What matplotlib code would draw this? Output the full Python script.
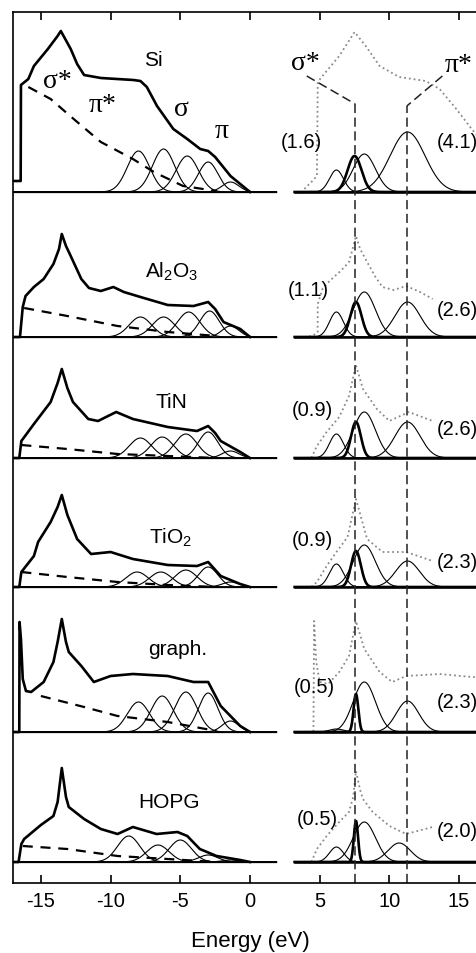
import numpy as np
import matplotlib.pyplot as plt

plt.rcParams['font.family'] = ['Liberation Sans', 'DejaVu Sans']
plt.rcParams['mathtext.default'] = 'regular'
plt.rcParams['axes.unicode_minus'] = False

# --- data (intensity in arbitrary units) ---
names = ['Si', 'Al$_2$O$_3$', 'TiN', 'TiO$_2$', 'graph.', 'HOPG']
offsets = [691, 546, 425, 296, 151, 21]

# thick measured spectra, left half (energy, intensity)
spec_E = [
    [-17, -16.45, -16.43, -15.9, -15.5, -14.5, -13.8, -13.57, -12.86, -12.4, -11.9, -10.7,
     -8.36, -7.86, -7.4, -6.67, -5.5, -4.5, -3.57, -3.0, -2.5, -1.4, -0.7, 0.0],
    [-17, -16.5, -16.3, -16.1, -15.5, -14.8, -14.1, -13.7, -13.5, -13.2, -12.86, -12.1, -11.55,
     -10.7, -9.8, -9.05, -7.86, -5.9, -4.05, -3.0, -2.5, -1.9, -0.7, 0.0],
    [-17, -16.55, -16.4, -15.5, -14.3, -13.8, -13.5, -13.1, -12.7, -11.6, -10.9, -9.6, -8.4,
     -5.9, -3.8, -3.0, -2.5, -2.1, -0.7, 0.0],
    [-17, -16.55, -16.4, -15.5, -15.2, -14.3, -13.8, -13.5, -13.1, -12.4, -11.4, -10.0, -8.4,
     -5.9, -3.8, -3.0, -2.1, -0.7, 0.0],
    [-17, -16.55, -16.53, -16.43, -16.3, -16.07, -15.7, -14.8, -14.1, -13.8, -13.5, -13.2, -13.0,
     -12.1, -11.2, -10.0, -8.4, -5.9, -4.05, -3.0, -2.1, -0.7, 0.0],
    [-17, -16.6, -16.4, -16.2, -15.0, -14.1, -13.8, -13.5, -13.2, -13.0, -11.9, -10.7, -9.5,
     -8.4, -6.7, -5.2, -4.5, -3.6, -2.4, -0.7, 0.0],
]
spec_I = [
    [11, 11, 107, 113, 126, 143, 156, 161, 143, 128, 117, 114, 112, 111, 105, 86, 63, 53, 43,
     41, 35, 16, 8, 0],
    [0, 0, 30, 41, 50, 58, 73, 88, 103, 91, 81, 58, 49, 46, 50, 45, 40, 32, 31, 35, 28, 15, 8, 0],
    [0, 0, 17, 34, 56, 75, 89, 70, 56, 39, 37, 46, 39, 31, 27, 32, 25, 17, 6, 0],
    [0, 0, 15, 31, 45, 65, 80, 92, 72, 48, 33, 35, 28, 22, 21, 25, 11, 3, 0],
    [0, 0, 110, 93, 53, 41, 40, 50, 70, 90, 113, 90, 80, 66, 50, 56, 58, 56, 50, 50, 26, 6, 0],
    [0, 0, 18, 23, 37, 46, 60, 94, 65, 55, 43, 33, 28, 35, 28, 30, 26, 13, 6, 2, 0],
]

# dashed backgrounds
bg_E = [
    [-15.9, -14.3, -12.9, -10.7, -8.4, -6.9, -4.8, -2.4],
    [-16.2, -13.1, -9.5, -5.9, -2.4],
    [-16.4, -13.1, -9.5, -5.9, -2.4],
    [-16.4, -13.1, -9.5, -5.9, -2.4],
    [-15.0, -11.9, -9.5, -5.9, -2.4],
    [-16.3, -13.1, -9.5, -5.9, -2.4],
]
bg_I = [
    [105, 93, 76, 50, 33, 20, 6, 1],
    [29, 21, 11, 5, 1],
    [13, 9, 4, 2, 0],
    [15, 10, 5, 2, 0],
    [36, 25, 16, 10, 1],
    [16, 13, 6, 3, 0],
]

# thin fitted peaks, left half: centres, heights, widths
left_c = [
    [-8.0, -6.2, -4.5, -3.0, -1.4],
    [-7.86, -6.2, -4.4, -2.9, -1.4],
    [-7.86, -6.3, -4.6, -3.0, -1.4],
    [-8.1, -6.4, -4.6, -3.0, -1.4],
    [-8.0, -6.3, -4.6, -3.0, -1.4],
    [-8.7, -6.6, -5.0, -3.0, -1.4],
]
left_h = [
    [41, 43, 36, 30, 10],
    [20, 20, 25, 26, 11],
    [20, 21, 24, 26, 7],
    [15, 15, 17, 20, 5],
    [30, 36, 40, 39, 11],
    [26, 17, 22, 7, 2],
]
left_w = [0.8, 0.8, 0.8, 0.7, 0.6]

# dotted spectra, right half
dot_E = [
    [3.9, 4.4, 4.8, 4.86, 5.2, 6.4, 7.5, 8.3, 9.3, 10.7, 12.6, 13.6, 14.8, 15.9, 17.0],
    [3.9, 4.5, 4.85, 4.86, 5.2, 5.7, 6.5, 7.1, 7.4, 7.6, 7.9, 8.4, 9.0, 9.5, 10.3, 11.2, 12.2, 13.1],
    [4.4, 4.8, 5.5, 6.4, 7.1, 7.6, 8.1, 9.1, 10.0, 11.4, 13.1],
    [4.4, 4.8, 5.5, 6.2, 7.0, 7.6, 8.4, 9.5, 11.2, 13.1],
    [3.2, 4.55, 4.6, 4.75, 5.0, 5.6, 6.4, 7.1, 7.6, 8.2, 9.3, 10.2, 11.2, 13.6, 15.9, 17.0],
    [4.4, 4.8, 5.5, 6.4, 7.1, 7.4, 7.6, 7.9, 8.1, 8.8, 10.0, 11.2, 13.1],
]
dot_I = [
    [3, 10, 16, 110, 116, 136, 160, 146, 126, 115, 111, 103, 83, 63, 45],
    [0, 1, 5, 33, 48, 56, 66, 75, 90, 101, 88, 75, 60, 50, 47, 51, 45, 38],
    [0, 12, 26, 41, 62, 93, 69, 49, 37, 46, 37],
    [0, 5, 21, 35, 50, 88, 48, 35, 35, 26],
    [0, 0, 111, 70, 50, 48, 60, 76, 111, 83, 60, 50, 56, 58, 55, 55],
    [0, 13, 26, 40, 50, 65, 91, 72, 63, 50, 36, 28, 35],
]

# fitted peaks, right half (thin ones) and the thick sigma* peak
right_c = [
    [6.2, 8.2, 11.3], [6.2, 8.2, 11.3], [6.2, 8.2, 11.3],
    [6.2, 8.2, 11.3], [6.2, 8.2, 11.3], [6.2, 8.2, 10.7],
]
right_h = [
    [22, 38, 60], [25, 45, 35], [24, 46, 36],
    [23, 42, 26], [3, 50, 31], [15, 40, 19],
]
right_w = [
    [0.5, 0.8, 1.25], [0.5, 0.8, 0.9], [0.5, 0.8, 0.9],
    [0.5, 0.8, 0.85], [0.5, 0.8, 0.8], [0.5, 0.8, 0.8],
]
thick_c = [7.5, 7.6, 7.6, 7.6, 7.6, 7.6]
thick_h = [36, 35, 36, 36, 38, 41]
thick_w = [0.5, 0.4, 0.35, 0.35, 0.17, 0.15]

ratio_left = ['(1.6)', '(1.1)', '(0.9)', '(0.9)', '(0.5)', '(0.5)']
ratio_right = ['(4.1)', '(2.6)', '(2.6)', '(2.3)', '(2.3)', '(2.0)']

sigma_line = 7.55
pi_line = 11.25


def gauss(x, c, h, w):
    return h * np.exp(-(x - c) ** 2 / (2 * w ** 2))


fig = plt.figure(figsize=(4.76, 9.54), dpi=100)
ax = fig.add_axes([13 / 476, 70 / 954, 474 / 476, 871 / 954])
ax.set_xlim(-17, 17)
ax.set_ylim(0, 871)

xl = np.linspace(-17, 1.9, 800)
xr = np.linspace(3.2, 17, 800)

name_x = [-6.9, -5.6, -5.6, -5.7, -5.2, -5.8]
name_y = [133, 66, 56, 50, 83, 60]
rl_x = [3.7, 4.2, 4.5, 4.5, 4.6, 4.86]
rl_y = [50, 47, 48, 47, 45, 43]
rr_y = [50, 27, 29, 25, 30, 31]

for i in range(6):
    off = offsets[i]
    # left half
    ax.plot([-17, 1.9], [off, off], color='black', lw=0.9)
    for c, h, w in zip(left_c[i], left_h[i], left_w):
        ax.plot(xl, off + gauss(xl, c, h, w), color='black', lw=0.8)
    ax.plot(bg_E[i], np.array(bg_I[i]) + off, color='black', lw=1.6,
            linestyle=(0, (4.5, 3.5)))
    ax.plot(spec_E[i], np.array(spec_I[i]) + off, color='black', lw=1.9,
            solid_joinstyle='round')
    ax.text(name_x[i], off + name_y[i], names[i], fontsize=15, ha='center', va='center')

    # right half
    ax.plot(dot_E[i], np.array(dot_I[i]) + off, color='#8a8a8a', lw=1.3, linestyle=':')
    ax.plot([3.2, 17], [off, off], color='black', lw=1.8)
    for c, h, w in zip(right_c[i], right_h[i], right_w[i]):
        ax.plot(xr, off + gauss(xr, c, h, w), color='black', lw=0.8)
    ax.plot(xr, off + gauss(xr, thick_c[i], thick_h[i], thick_w[i]), color='black', lw=1.9)
    ax.text(rl_x[i], off + rl_y[i], ratio_left[i], fontsize=14.5, ha='center', va='center')
    ax.text(13.36, off + rr_y[i], ratio_right[i], fontsize=14.5, ha='left', va='center')

# peak position guides
guide = dict(color='#222222', lw=1.1, linestyle=(0, (6, 3)))
ax.plot([sigma_line, sigma_line], [0, 779], **guide)
ax.plot([pi_line, pi_line], [0, 777], **guide)
ax.plot([4.07, sigma_line], [807, 779], **guide)
ax.plot([13.8, pi_line], [807, 777], **guide)

greek = dict(family=['Liberation Serif', 'DejaVu Serif'], fontsize=20, va='center')
ax.text(4.0, 820, 'σ*', ha='center', **greek)
ax.text(13.93, 818, 'π*', ha='left', **greek)
ax.text(-13.8, 803, 'σ*', ha='center', **greek)
ax.text(-10.6, 778, 'π*', ha='center', **greek)
ax.text(-4.9, 775, 'σ', ha='center', **greek)
ax.text(-2.0, 752, 'π', ha='center', **greek)

ax.set_xticks([-15, -10, -5, 0, 5, 10, 15])
ax.set_yticks([])
ax.tick_params(axis='x', direction='in', top=True, length=6, width=1.2,
               labelsize=14.5, pad=6)
for s in ax.spines.values():
    s.set_linewidth(1.2)
ax.set_xlabel('Energy (eV)', fontsize=16, labelpad=14)

fig.savefig('out.png', dpi=100)
